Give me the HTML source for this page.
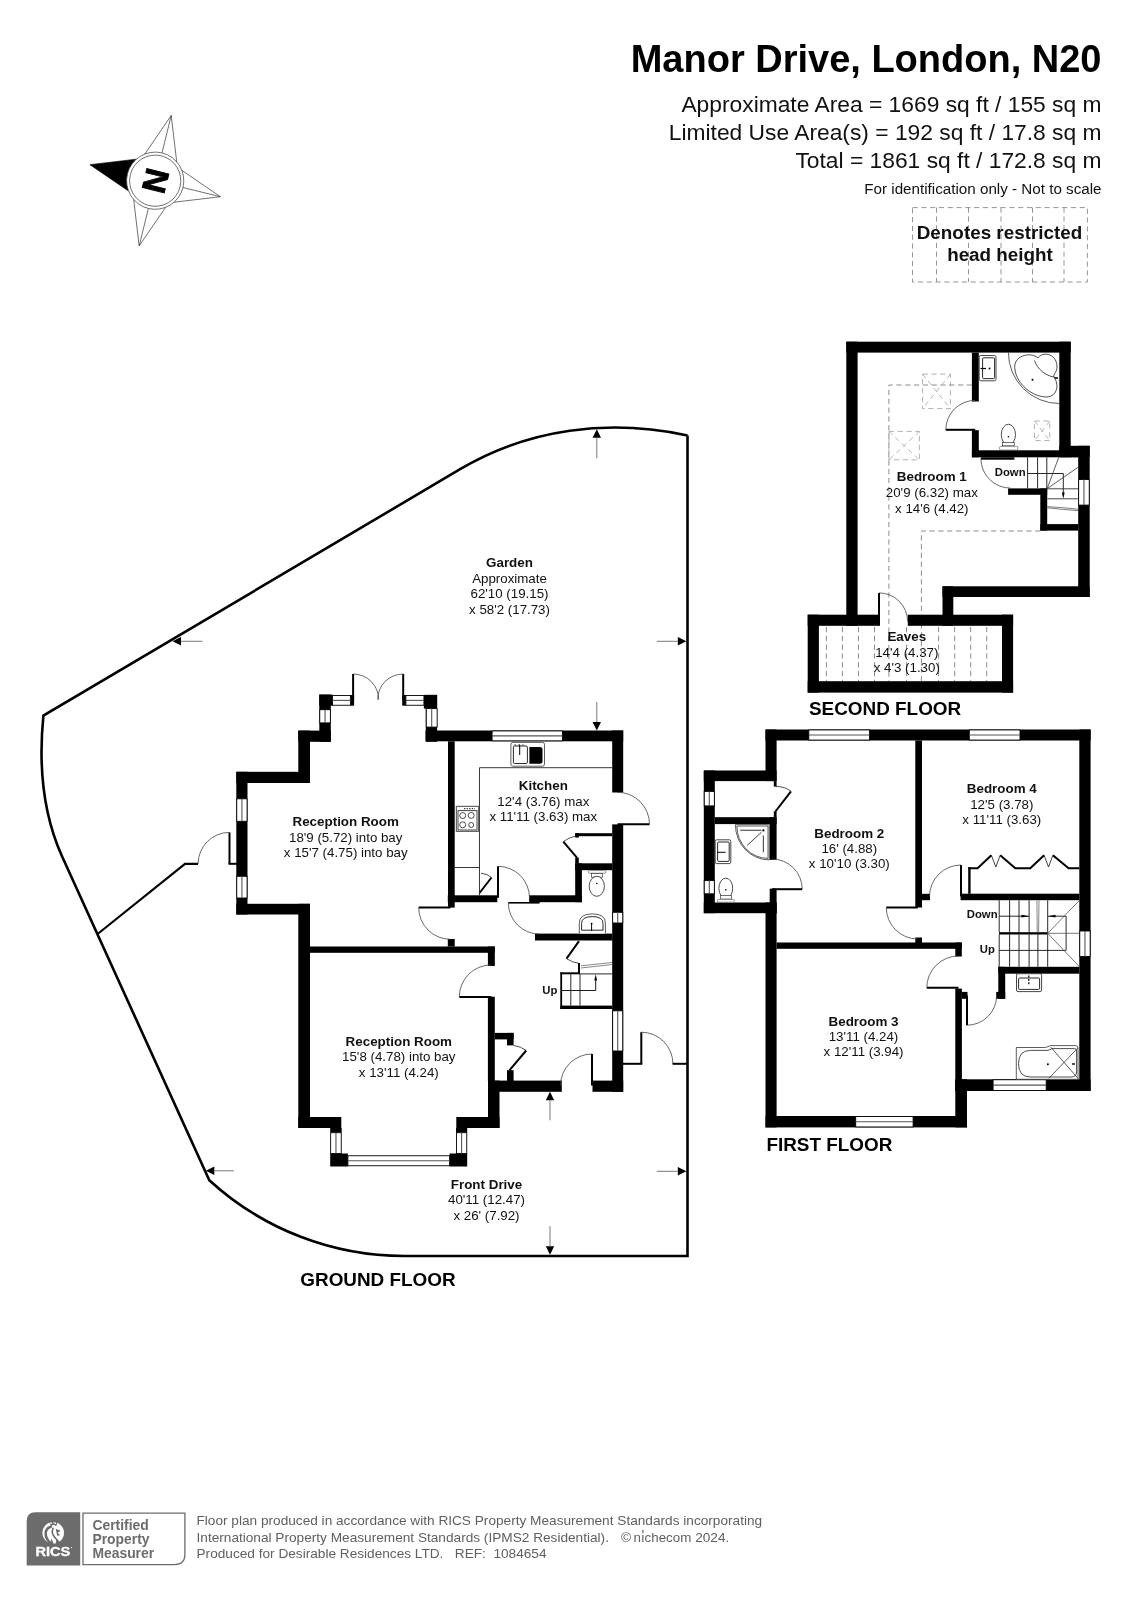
<!DOCTYPE html>
<html><head><meta charset="utf-8"><title>Manor Drive, London, N20</title>
<style>
html,body{margin:0;padding:0;background:#fff;}
svg{display:block;will-change:transform;}
text{font-family:"Liberation Sans",sans-serif;}
</style></head><body>
<svg width="1131" height="1600" viewBox="0 0 1131 1600">
<rect x="0" y="0" width="1131" height="1600" fill="#fff"/>
<text x="1101.50" y="72.20" font-size="38" text-anchor="end" fill="#000" font-weight="bold" >Manor Drive, London, N20</text>
<text x="1101.50" y="112.00" font-size="22.8" text-anchor="end" fill="#111" >Approximate Area = 1669 sq ft / 155 sq m</text>
<text x="1101.50" y="140.30" font-size="22.8" text-anchor="end" fill="#111" >Limited Use Area(s) = 192 sq ft / 17.8 sq m</text>
<text x="1101.50" y="168.00" font-size="22.8" text-anchor="end" fill="#111" >Total = 1861 sq ft / 172.8 sq m</text>
<text x="1101.50" y="194.30" font-size="15.2" text-anchor="end" fill="#111" >For identification only - Not to scale</text>
<rect x="912.5" y="207.6" width="174.9" height="74.4" fill="none" stroke="#8a8a8a" stroke-width="0.9" stroke-dasharray="5.2 3.6"/>
<line x1="936.50" y1="207.60" x2="936.50" y2="282.00" stroke="#8a8a8a" stroke-width="0.9" stroke-dasharray="5.2 3.6"/>
<line x1="968.50" y1="207.60" x2="968.50" y2="282.00" stroke="#8a8a8a" stroke-width="0.9" stroke-dasharray="5.2 3.6"/>
<line x1="1001.00" y1="207.60" x2="1001.00" y2="282.00" stroke="#8a8a8a" stroke-width="0.9" stroke-dasharray="5.2 3.6"/>
<line x1="1032.50" y1="207.60" x2="1032.50" y2="282.00" stroke="#8a8a8a" stroke-width="0.9" stroke-dasharray="5.2 3.6"/>
<line x1="1064.00" y1="207.60" x2="1064.00" y2="282.00" stroke="#8a8a8a" stroke-width="0.9" stroke-dasharray="5.2 3.6"/>
<text x="999.50" y="239.30" font-size="18.85" text-anchor="middle" fill="#111" font-weight="bold" >Denotes restricted</text>
<text x="1000.00" y="260.50" font-size="18.85" text-anchor="middle" fill="#111" font-weight="bold" >head height</text>
<g transform="translate(155.2 180.7) rotate(-76.2)">
<polygon transform="rotate(0)" points="0.00,-67.20 -16.40,-23.43 16.40,-23.43" fill="#000" stroke="#000" stroke-width="0.6"/>
<polygon transform="rotate(90)" points="0.00,-67.20 -16.40,-23.43 16.40,-23.43" fill="none" stroke="#444" stroke-width="0.7"/>
<line transform="rotate(90)" x1="0" y1="-67.2" x2="0" y2="-28.6" stroke="#444" stroke-width="0.7"/>
<polygon transform="rotate(180)" points="0.00,-67.20 -16.40,-23.43 16.40,-23.43" fill="none" stroke="#444" stroke-width="0.7"/>
<line transform="rotate(180)" x1="0" y1="-67.2" x2="0" y2="-28.6" stroke="#444" stroke-width="0.7"/>
<polygon transform="rotate(270)" points="0.00,-67.20 -16.40,-23.43 16.40,-23.43" fill="none" stroke="#444" stroke-width="0.7"/>
<line transform="rotate(270)" x1="0" y1="-67.2" x2="0" y2="-28.6" stroke="#444" stroke-width="0.7"/>
<circle cx="0" cy="0" r="28.6" fill="#fff" stroke="#444" stroke-width="0.7"/>
<circle cx="0" cy="0" r="25.6" fill="none" stroke="#444" stroke-width="0.7"/>
<text x="0" y="11.8" font-size="33" font-weight="bold" text-anchor="middle" fill="#000" stroke="#000" stroke-width="0.9">N</text>
</g>
<path d="M26.7 1565.5 V1521 Q26.7 1512.2 35.5 1512.2 H80.2 V1565.5 Z" fill="#6c6c6c"/>
<path d="M83 1513.2 H184.9 V1554.5 Q184.9 1564.6 174.5 1564.6 H83 Z" fill="#fff" stroke="#6c6c6c" stroke-width="1.3"/>
<text x="35.4" y="1556.2" font-size="13.2" font-weight="bold" fill="#fff" stroke="#fff" stroke-width="0.35" textLength="34.9" lengthAdjust="spacingAndGlyphs">RICS</text>
<circle cx="71.6" cy="1547.6" r="0.6" fill="#fff"/>
<circle cx="53.2" cy="1532.8" r="10.8" fill="#fff"/>
<path d="M50.75 1526.85 C44.81 1528.34 43.82 1535.76 49.27 1542.20" fill="none" stroke="#6c6c6c" stroke-width="2.6" stroke-linecap="round"/>
<path d="M52.98 1528.34 C50.75 1533.29 53.72 1536.75 58.18 1541.21" fill="none" stroke="#6c6c6c" stroke-width="1.6" stroke-linecap="round"/>
<path d="M49.27 1543.68 L51.74 1538.73 L53.72 1544.43 Z" fill="#6c6c6c"/>
<path d="M55.70 1544.43 L56.20 1539.72 L60.16 1541.70 Z" fill="#6c6c6c"/>
<path d="M55.70 1528.83 L60.65 1530.81 L57.68 1532.79 L60.16 1535.27 L57.19 1535.76 Z" fill="#6c6c6c"/>
<path d="M49.27 1521.90 L50.75 1526.36 L53.72 1524.38 L56.20 1526.36 L57.68 1522.15 L55.70 1520.91 L53.72 1522.64 L51.25 1520.91 Z" fill="#6c6c6c"/>
<circle cx="51.00" cy="1523.14" r="0.9" fill="#fff"/>
<circle cx="55.21" cy="1523.14" r="0.9" fill="#fff"/>
<text x="92.40" y="1530.10" font-size="13.9" text-anchor="start" fill="#6c6c6c" font-weight="bold" >Certified</text>
<text x="92.40" y="1544.20" font-size="13.9" text-anchor="start" fill="#6c6c6c" font-weight="bold" >Property</text>
<text x="92.40" y="1558.30" font-size="13.9" text-anchor="start" fill="#6c6c6c" font-weight="bold" >Measurer</text>
<text x="196.50" y="1525.00" font-size="13.65" text-anchor="start" fill="#606060" >Floor plan produced in accordance with RICS Property Measurement Standards incorporating</text>
<text x="196.50" y="1541.50" font-size="13.65" text-anchor="start" fill="#606060" >International Property Measurement Standards (IPMS2 Residential).</text>
<text x="621.00" y="1541.50" font-size="13.65" text-anchor="start" fill="#606060" >©</text>
<text x="633.5" y="1541.5" font-size="13.65" fill="#606060" textLength="57.8" lengthAdjust="spacingAndGlyphs">nıchecom</text>
<line x1="642.90" y1="1530.00" x2="642.90" y2="1533.30" stroke="#606060" stroke-width="1.1" />
<text x="695.20" y="1541.50" font-size="13.65" text-anchor="start" fill="#606060" >2024.</text>
<text x="196.50" y="1558.00" font-size="13.65" text-anchor="start" fill="#606060" xml:space="preserve">Produced for Desirable Residences LTD.   REF:  1084654</text>
<path d="M687.5 435.4 L687.5 1256 L405 1256 A288.4 288.4 0 0 1 209.3 1180.2 L62 856.3 Q35.3 796.8 43.4 715.6 L460.1 469.2 C528.7 428.6 608.1 418.4 687.5 435.4" stroke="#000" stroke-width="2.6" fill="none" stroke-linejoin="miter"/>
<path d="M97.6 934 L185 863.8 L198 863.8" stroke="#000" stroke-width="2.2" fill="none" />
<line x1="229.50" y1="863.80" x2="229.50" y2="832.40" stroke="#000" stroke-width="2.0" />
<path d="M229.50 832.40 A31.40 31.40 0 0 0 198.10 863.80" stroke="#444" stroke-width="0.8" fill="none" />
<line x1="228.50" y1="863.80" x2="237.00" y2="863.80" stroke="#000" stroke-width="2.0" />
<line x1="623.00" y1="1063.80" x2="642.30" y2="1063.80" stroke="#000" stroke-width="2.0" />
<line x1="641.30" y1="1063.80" x2="641.30" y2="1032.20" stroke="#000" stroke-width="2.0" />
<path d="M641.30 1032.20 A31.60 31.60 0 0 1 672.90 1063.80" stroke="#444" stroke-width="0.8" fill="none" />
<line x1="672.60" y1="1063.80" x2="687.50" y2="1063.80" stroke="#000" stroke-width="2.0" />
<polygon points="172.50,641.30 181.00,637.10 181.00,645.50" fill="#000"/>
<line x1="181.00" y1="641.30" x2="202.50" y2="641.30" stroke="#555" stroke-width="0.8" />
<polygon points="596.80,429.30 601.00,437.80 592.60,437.80" fill="#000"/>
<line x1="596.80" y1="437.80" x2="596.80" y2="458.30" stroke="#555" stroke-width="0.8" />
<polygon points="686.30,641.30 677.80,645.50 677.80,637.10" fill="#000"/>
<line x1="677.80" y1="641.30" x2="656.80" y2="641.30" stroke="#555" stroke-width="0.8" />
<polygon points="596.80,730.50 592.60,722.00 601.00,722.00" fill="#000"/>
<line x1="596.80" y1="722.00" x2="596.80" y2="702.00" stroke="#555" stroke-width="0.8" />
<polygon points="205.80,1170.80 214.30,1166.60 214.30,1175.00" fill="#000"/>
<line x1="214.30" y1="1170.80" x2="233.80" y2="1170.80" stroke="#555" stroke-width="0.8" />
<polygon points="686.30,1171.30 677.80,1175.50 677.80,1167.10" fill="#000"/>
<line x1="677.80" y1="1171.30" x2="656.80" y2="1171.30" stroke="#555" stroke-width="0.8" />
<polygon points="550.00,1091.80 554.20,1100.30 545.80,1100.30" fill="#000"/>
<line x1="550.00" y1="1100.30" x2="550.00" y2="1120.30" stroke="#555" stroke-width="0.8" />
<polygon points="550.00,1254.70 545.80,1246.20 554.20,1246.20" fill="#000"/>
<line x1="550.00" y1="1246.20" x2="550.00" y2="1226.20" stroke="#555" stroke-width="0.8" />
<rect x="236.30" y="771.80" width="11.20" height="142.70" fill="#000"/>
<rect x="236.30" y="771.80" width="73.70" height="11.20" fill="#000"/>
<rect x="298.30" y="730.60" width="11.70" height="52.40" fill="#000"/>
<rect x="298.30" y="730.60" width="32.50" height="11.20" fill="#000"/>
<rect x="319.30" y="694.60" width="11.50" height="47.20" fill="#000"/>
<rect x="319.30" y="694.60" width="13.20" height="11.10" fill="#000"/>
<rect x="350.40" y="695.00" width="3.70" height="10.70" fill="#000"/>
<rect x="402.20" y="695.00" width="3.70" height="10.70" fill="#000"/>
<rect x="425.80" y="694.90" width="11.30" height="46.90" fill="#000"/>
<rect x="423.90" y="694.90" width="13.20" height="13.70" fill="#000"/>
<rect x="425.50" y="730.50" width="197.70" height="10.80" fill="#000"/>
<rect x="612.20" y="730.50" width="11.00" height="62.00" fill="#000"/>
<rect x="612.20" y="824.40" width="11.00" height="267.40" fill="#000"/>
<rect x="236.30" y="903.80" width="73.70" height="10.70" fill="#000"/>
<rect x="298.30" y="903.80" width="11.70" height="224.20" fill="#000"/>
<rect x="298.30" y="1117.00" width="43.00" height="11.00" fill="#000"/>
<rect x="456.30" y="1117.00" width="43.20" height="11.00" fill="#000"/>
<rect x="488.00" y="1080.60" width="11.50" height="47.40" fill="#000"/>
<rect x="488.00" y="1080.60" width="73.80" height="11.20" fill="#000"/>
<rect x="592.50" y="1080.60" width="30.70" height="11.20" fill="#000"/>
<rect x="330.20" y="1153.50" width="17.70" height="13.00" fill="#000"/>
<rect x="330.20" y="1128.00" width="11.50" height="4.70" fill="#000"/>
<rect x="456.00" y="1128.00" width="11.20" height="4.70" fill="#000"/>
<rect x="449.60" y="1153.50" width="17.60" height="13.00" fill="#000"/>
<rect x="448.00" y="741.30" width="6.70" height="166.30" fill="#000"/>
<rect x="447.80" y="895.30" width="49.50" height="6.90" fill="#000"/>
<rect x="529.20" y="895.30" width="52.70" height="6.90" fill="#000"/>
<rect x="447.80" y="939.00" width="6.90" height="7.60" fill="#000"/>
<rect x="310.00" y="946.50" width="184.80" height="6.30" fill="#000"/>
<rect x="487.90" y="946.50" width="6.90" height="19.50" fill="#000"/>
<rect x="487.90" y="996.70" width="6.90" height="84.30" fill="#000"/>
<rect x="575.20" y="863.30" width="6.70" height="38.90" fill="#000"/>
<rect x="575.20" y="863.30" width="37.10" height="6.90" fill="#000"/>
<rect x="535.00" y="933.60" width="77.30" height="6.90" fill="#000"/>
<rect x="575.20" y="833.20" width="37.10" height="3.00" fill="#000"/>
<rect x="575.20" y="833.20" width="3.60" height="4.40" fill="#000"/>
<rect x="575.20" y="857.70" width="3.60" height="5.80" fill="#000"/>
<rect x="494.80" y="1032.90" width="18.80" height="6.50" fill="#000"/>
<rect x="507.00" y="1032.90" width="6.60" height="12.50" fill="#000"/>
<rect x="507.00" y="1070.20" width="6.60" height="10.80" fill="#000"/>
<rect x="560.40" y="972.30" width="19.60" height="2.00" fill="#000"/>
<rect x="578.00" y="963.00" width="2.00" height="11.00" fill="#000"/>
<rect x="560.40" y="1005.60" width="51.90" height="3.40" fill="#000"/>
<rect x="236.75" y="798.80" width="10.30" height="22.50" fill="#fff" stroke="#000" stroke-width="0.9"/>
<line x1="241.90" y1="798.80" x2="241.90" y2="821.30" stroke="#555" stroke-width="1.1" />
<rect x="236.75" y="876.30" width="10.30" height="21.70" fill="#fff" stroke="#000" stroke-width="0.9"/>
<line x1="241.90" y1="876.30" x2="241.90" y2="898.00" stroke="#555" stroke-width="1.1" />
<rect x="319.75" y="709.70" width="10.60" height="13.20" fill="#fff" stroke="#000" stroke-width="0.9"/>
<line x1="325.05" y1="709.70" x2="325.05" y2="722.90" stroke="#555" stroke-width="1.1" />
<rect x="426.25" y="708.60" width="10.90" height="18.50" fill="#fff" stroke="#000" stroke-width="0.9"/>
<line x1="431.70" y1="708.60" x2="431.70" y2="727.10" stroke="#555" stroke-width="1.1" />
<rect x="332.50" y="695.55" width="17.90" height="9.70" fill="#fff" stroke="#000" stroke-width="0.9"/>
<line x1="332.50" y1="700.40" x2="350.40" y2="700.40" stroke="#555" stroke-width="1.1" />
<rect x="405.90" y="695.55" width="18.00" height="9.70" fill="#fff" stroke="#000" stroke-width="0.9"/>
<line x1="405.90" y1="700.40" x2="423.90" y2="700.40" stroke="#555" stroke-width="1.1" />
<rect x="492.10" y="730.95" width="70.30" height="9.90" fill="#fff" stroke="#000" stroke-width="0.9"/>
<line x1="492.10" y1="735.90" x2="562.40" y2="735.90" stroke="#555" stroke-width="1.1" />
<rect x="612.65" y="912.30" width="10.10" height="10.70" fill="#fff" stroke="#000" stroke-width="0.9"/>
<line x1="617.70" y1="912.30" x2="617.70" y2="923.00" stroke="#555" stroke-width="1.1" />
<rect x="612.65" y="1010.80" width="10.10" height="40.20" fill="#fff" stroke="#000" stroke-width="0.9"/>
<line x1="617.70" y1="1010.80" x2="617.70" y2="1051.00" stroke="#555" stroke-width="1.1" />
<rect x="330.65" y="1132.70" width="10.60" height="20.80" fill="#fff" stroke="#000" stroke-width="0.9"/>
<line x1="335.95" y1="1132.70" x2="335.95" y2="1153.50" stroke="#555" stroke-width="1.1" />
<rect x="456.45" y="1132.70" width="10.30" height="20.80" fill="#fff" stroke="#000" stroke-width="0.9"/>
<line x1="461.60" y1="1132.70" x2="461.60" y2="1153.50" stroke="#555" stroke-width="1.1" />
<rect x="347.90" y="1155.75" width="101.70" height="10.00" fill="#fff" stroke="#000" stroke-width="0.9"/>
<line x1="347.90" y1="1160.75" x2="449.60" y2="1160.75" stroke="#555" stroke-width="1.1" />
<line x1="353.10" y1="699.60" x2="353.10" y2="674.00" stroke="#000" stroke-width="2.0" />
<path d="M353.10 674.00 A25.60 25.60 0 0 1 378.70 699.60" stroke="#444" stroke-width="0.8" fill="none" />
<line x1="403.20" y1="699.60" x2="403.20" y2="674.00" stroke="#000" stroke-width="2.0" />
<path d="M403.20 674.00 A25.60 25.60 0 0 0 377.60 699.60" stroke="#444" stroke-width="0.8" fill="none" />
<line x1="617.50" y1="824.30" x2="649.50" y2="824.30" stroke="#000" stroke-width="2.0" />
<path d="M649.50 824.30 A32.00 32.00 0 0 0 617.50 792.30" stroke="#444" stroke-width="0.8" fill="none" />
<line x1="498.00" y1="897.80" x2="498.00" y2="866.30" stroke="#000" stroke-width="2.0" />
<path d="M498.00 866.30 A31.50 31.50 0 0 1 529.50 897.80" stroke="#444" stroke-width="0.8" fill="none" />
<line x1="539.60" y1="902.80" x2="508.30" y2="902.80" stroke="#000" stroke-width="1.6" />
<path d="M508.30 902.80 A31.30 31.30 0 0 0 539.60 934.10" stroke="#444" stroke-width="0.8" fill="none" />
<line x1="450.40" y1="907.60" x2="418.70" y2="907.60" stroke="#000" stroke-width="2.0" />
<path d="M418.70 907.60 A31.70 31.70 0 0 0 450.40 939.30" stroke="#444" stroke-width="0.8" fill="none" />
<line x1="491.30" y1="996.90" x2="459.30" y2="996.90" stroke="#000" stroke-width="2.0" />
<path d="M459.30 996.90 A32.00 32.00 0 0 1 491.30 964.90" stroke="#444" stroke-width="0.8" fill="none" />
<line x1="592.00" y1="1085.50" x2="592.00" y2="1054.00" stroke="#000" stroke-width="2.0" />
<path d="M592.00 1054.00 A31.50 31.50 0 0 0 560.50 1085.50" stroke="#444" stroke-width="0.8" fill="none" />
<line x1="479.50" y1="893.00" x2="491.50" y2="877.50" stroke="#000" stroke-width="2.0" />
<path d="M481 873.2 Q488 874 491.5 877.5" stroke="#222" stroke-width="0.8" fill="none" />
<line x1="577.10" y1="857.90" x2="563.30" y2="841.60" stroke="#000" stroke-width="2.0" />
<path d="M563.3 841.6 Q569 837.5 575.2 836.2" stroke="#222" stroke-width="0.8" fill="none" />
<line x1="579.00" y1="941.20" x2="566.50" y2="958.70" stroke="#000" stroke-width="2.0" />
<path d="M566.5 958.7 Q572 962.3 578.4 963.2" stroke="#222" stroke-width="0.8" fill="none" />
<line x1="509.40" y1="1070.40" x2="526.20" y2="1050.50" stroke="#000" stroke-width="2.0" />
<path d="M513.6 1045.4 Q521 1046.5 526.2 1050.5" stroke="#222" stroke-width="0.8" fill="none" />
<path d="M612.2 767.7 H479.5 V895.3" stroke="#222" stroke-width="0.9" fill="none" />
<line x1="454.70" y1="867.50" x2="479.50" y2="867.50" stroke="#222" stroke-width="0.9" />
<rect x="510.9" y="742.4" width="33.6" height="23.8" rx="2" fill="#fff" stroke="#333" stroke-width="0.8"/>
<rect x="513.4" y="746" width="14" height="17.5" rx="1.2" fill="#fff" stroke="#111" stroke-width="0.9"/>
<path d="M529.4 747 H540 Q542.5 747 542.5 749.5 V761.2 Q542.5 763.7 540 763.7 H529.4 Z" fill="#000"/>
<line x1="519.70" y1="744.50" x2="519.70" y2="755.00" stroke="#000" stroke-width="1.0" />
<line x1="514.50" y1="745.00" x2="525.50" y2="745.00" stroke="#333" stroke-width="1.2" stroke-dasharray="1.6 2.2"/>
<rect x="456.4" y="806.4" width="22.2" height="25" fill="#fff" stroke="#666" stroke-width="1.2"/>
<rect x="458" y="810.6" width="19" height="19.4" fill="none" stroke="#444" stroke-width="1.0"/>
<circle cx="462.7" cy="815.6" r="3.0" fill="none" stroke="#222" stroke-width="0.8"/>
<circle cx="471.2" cy="815.4" r="3.0" fill="none" stroke="#222" stroke-width="0.8"/>
<circle cx="462.7" cy="824.8" r="3.0" fill="none" stroke="#222" stroke-width="0.8"/>
<circle cx="471.2" cy="825" r="2.5" fill="none" stroke="#222" stroke-width="0.8"/>
<line x1="464.00" y1="808.60" x2="475.00" y2="808.60" stroke="#333" stroke-width="1.3" stroke-dasharray="1.3 1.3"/>
<rect x="588.4" y="870.6" width="17.5" height="2.6" rx="1" fill="#fff" stroke="#555" stroke-width="0.6"/>
<rect x="591.5" y="873.6" width="10.8" height="3.6" fill="#fff" stroke="#333" stroke-width="0.7"/>
<ellipse cx="596.8" cy="886.3" rx="7.6" ry="10" fill="#fff" stroke="#222" stroke-width="0.8"/>
<circle cx="596.8" cy="883.5" r="0.8" fill="#000"/>
<path d="M579.3 933.6 V923 Q579.3 913.9 592.3 913.9 Q605.4 913.9 605.4 923 V933.6" stroke="#333" stroke-width="0.8" fill="#fff" />
<path d="M581.6 930.2 V923.5 Q581.6 916.6 592.3 916.6 Q603 916.6 603 923.5 V930.2 Z" stroke="#111" stroke-width="0.9" fill="#fff" />
<line x1="591.60" y1="923.50" x2="591.60" y2="931.00" stroke="#000" stroke-width="1.0" />
<circle cx="591.6" cy="923.6" r="0.9" fill="#000"/>
<line x1="561.20" y1="972.30" x2="561.20" y2="1009.00" stroke="#000" stroke-width="1.8" />
<line x1="570.80" y1="974.20" x2="570.80" y2="1005.80" stroke="#111" stroke-width="0.9" />
<line x1="580.00" y1="974.20" x2="580.00" y2="1005.80" stroke="#111" stroke-width="0.9" />
<line x1="580.00" y1="973.90" x2="612.20" y2="973.90" stroke="#111" stroke-width="0.9" />
<path d="M581 965.8 L612 962.5 M581 968 L612 964.5" stroke="#555" stroke-width="0.7" fill="none" />
<path d="M561 990.5 H595.7 V980" stroke="#000" stroke-width="0.9" fill="none" />
<polygon points="595.7,974.3 594.3,980.4 597.1,980.4" fill="#000"/>
<text x="549.90" y="993.80" font-size="11.3" text-anchor="middle" fill="#111" font-weight="bold" >Up</text>
<text x="345.70" y="826.30" font-size="13.4" text-anchor="middle" fill="#111" font-weight="bold" >Reception Room</text>
<text x="345.70" y="841.70" font-size="13.3" text-anchor="middle" fill="#111" >18'9 (5.72) into bay</text>
<text x="345.70" y="857.10" font-size="13.3" text-anchor="middle" fill="#111" >x 15'7 (4.75) into bay</text>
<text x="398.80" y="1046.00" font-size="13.4" text-anchor="middle" fill="#111" font-weight="bold" >Reception Room</text>
<text x="398.80" y="1061.40" font-size="13.3" text-anchor="middle" fill="#111" >15'8 (4.78) into bay</text>
<text x="398.80" y="1076.80" font-size="13.3" text-anchor="middle" fill="#111" >x 13'11 (4.24)</text>
<text x="543.30" y="790.30" font-size="13.4" text-anchor="middle" fill="#111" font-weight="bold" >Kitchen</text>
<text x="543.30" y="805.70" font-size="13.3" text-anchor="middle" fill="#111" >12'4 (3.76) max</text>
<text x="543.30" y="821.10" font-size="13.3" text-anchor="middle" fill="#111" >x 11'11 (3.63) max</text>
<text x="509.50" y="567.30" font-size="13.4" text-anchor="middle" fill="#111" font-weight="bold" >Garden</text>
<text x="509.50" y="582.70" font-size="13.3" text-anchor="middle" fill="#111" >Approximate</text>
<text x="509.50" y="598.10" font-size="13.3" text-anchor="middle" fill="#111" >62'10 (19.15)</text>
<text x="509.50" y="613.50" font-size="13.3" text-anchor="middle" fill="#111" >x 58'2 (17.73)</text>
<text x="486.50" y="1188.80" font-size="13.4" text-anchor="middle" fill="#111" font-weight="bold" >Front Drive</text>
<text x="486.50" y="1204.20" font-size="13.3" text-anchor="middle" fill="#111" >40'11 (12.47)</text>
<text x="486.50" y="1219.60" font-size="13.3" text-anchor="middle" fill="#111" >x 26' (7.92)</text>
<text x="300.30" y="1286.00" font-size="18.9" text-anchor="start" fill="#000" font-weight="bold" >GROUND FLOOR</text>
<rect x="765.50" y="729.50" width="325.10" height="11.00" fill="#000"/>
<rect x="765.50" y="729.50" width="11.10" height="51.60" fill="#000"/>
<rect x="703.80" y="770.50" width="72.80" height="10.60" fill="#000"/>
<rect x="703.80" y="770.50" width="11.00" height="142.70" fill="#000"/>
<rect x="703.80" y="902.50" width="72.80" height="10.70" fill="#000"/>
<rect x="765.50" y="902.50" width="11.10" height="224.90" fill="#000"/>
<rect x="714.80" y="817.20" width="61.80" height="6.90" fill="#000"/>
<rect x="769.70" y="817.20" width="6.90" height="42.70" fill="#000"/>
<rect x="769.70" y="888.70" width="6.90" height="24.50" fill="#000"/>
<rect x="773.80" y="781.10" width="2.80" height="5.50" fill="#000"/>
<rect x="773.80" y="811.30" width="2.80" height="5.90" fill="#000"/>
<rect x="915.30" y="740.50" width="6.70" height="167.00" fill="#000"/>
<rect x="922.00" y="893.80" width="8.00" height="6.40" fill="#000"/>
<rect x="915.30" y="937.50" width="6.70" height="6.30" fill="#000"/>
<rect x="776.60" y="942.50" width="185.20" height="6.30" fill="#000"/>
<rect x="955.30" y="942.50" width="6.50" height="14.00" fill="#000"/>
<rect x="955.30" y="988.60" width="6.60" height="102.40" fill="#000"/>
<rect x="961.90" y="991.90" width="5.60" height="6.90" fill="#000"/>
<rect x="955.30" y="1079.30" width="11.70" height="48.10" fill="#000"/>
<rect x="765.50" y="1116.00" width="201.50" height="11.40" fill="#000"/>
<rect x="955.30" y="1079.30" width="135.30" height="11.70" fill="#000"/>
<rect x="1079.30" y="729.50" width="11.30" height="361.50" fill="#000"/>
<rect x="960.60" y="893.70" width="118.70" height="6.50" fill="#000"/>
<rect x="998.30" y="966.80" width="81.00" height="6.90" fill="#000"/>
<rect x="998.30" y="966.80" width="6.90" height="32.00" fill="#000"/>
<rect x="996.20" y="991.90" width="9.00" height="6.90" fill="#000"/>
<rect x="999.00" y="932.20" width="48.90" height="2.30" fill="#000"/>
<rect x="808.80" y="729.95" width="60.70" height="10.10" fill="#fff" stroke="#000" stroke-width="0.9"/>
<line x1="808.80" y1="735.00" x2="869.50" y2="735.00" stroke="#555" stroke-width="1.1" />
<rect x="969.30" y="729.95" width="50.70" height="10.10" fill="#fff" stroke="#000" stroke-width="0.9"/>
<line x1="969.30" y1="735.00" x2="1020.00" y2="735.00" stroke="#555" stroke-width="1.1" />
<rect x="704.25" y="791.40" width="10.10" height="14.50" fill="#fff" stroke="#000" stroke-width="0.9"/>
<line x1="709.30" y1="791.40" x2="709.30" y2="805.90" stroke="#555" stroke-width="1.1" />
<rect x="704.25" y="880.60" width="10.10" height="13.20" fill="#fff" stroke="#000" stroke-width="0.9"/>
<line x1="709.30" y1="880.60" x2="709.30" y2="893.80" stroke="#555" stroke-width="1.1" />
<rect x="1079.75" y="931.00" width="10.40" height="25.50" fill="#fff" stroke="#000" stroke-width="0.9"/>
<line x1="1084.95" y1="931.00" x2="1084.95" y2="956.50" stroke="#555" stroke-width="1.1" />
<rect x="855.70" y="1116.45" width="57.40" height="10.50" fill="#fff" stroke="#000" stroke-width="0.9"/>
<line x1="855.70" y1="1121.70" x2="913.10" y2="1121.70" stroke="#555" stroke-width="1.1" />
<rect x="993.10" y="1079.75" width="53.10" height="10.80" fill="#fff" stroke="#000" stroke-width="0.9"/>
<line x1="993.10" y1="1085.15" x2="1046.20" y2="1085.15" stroke="#555" stroke-width="1.1" />
<line x1="917.80" y1="907.50" x2="886.30" y2="907.50" stroke="#000" stroke-width="2.0" />
<path d="M886.30 907.50 A31.50 31.50 0 0 0 917.80 939.00" stroke="#444" stroke-width="0.8" fill="none" />
<line x1="958.50" y1="987.70" x2="926.80" y2="987.70" stroke="#000" stroke-width="2.0" />
<path d="M926.80 987.70 A31.70 31.70 0 0 1 958.50 956.00" stroke="#444" stroke-width="0.8" fill="none" />
<line x1="961.00" y1="896.50" x2="961.00" y2="865.00" stroke="#000" stroke-width="2.0" />
<path d="M961.00 865.00 A31.50 31.50 0 0 0 929.50 896.50" stroke="#444" stroke-width="0.8" fill="none" />
<line x1="967.00" y1="995.60" x2="967.00" y2="1025.20" stroke="#000" stroke-width="2.0" />
<path d="M967.00 1025.20 A29.60 29.60 0 0 0 996.60 995.60" stroke="#444" stroke-width="0.8" fill="none" />
<line x1="772.00" y1="889.20" x2="802.20" y2="889.20" stroke="#000" stroke-width="2.0" />
<path d="M802.20 889.20 A30.20 30.20 0 0 0 772.00 859.00" stroke="#444" stroke-width="0.8" fill="none" />
<line x1="775.40" y1="811.50" x2="791.00" y2="791.40" stroke="#000" stroke-width="2.0" />
<path d="M775.6 786.4 Q785 786.5 791 791.4" stroke="#222" stroke-width="0.8" fill="none" />
<line x1="969.40" y1="867.20" x2="969.40" y2="893.80" stroke="#000" stroke-width="2.4" />
<path d="M968.3 868.2 H977.6 L991.4 855.3 M1000.2 855.3 L1015.3 868.2 H1030.3 L1044.1 855.3 M1052.9 855.3 L1068.6 868.2 H1079.3" stroke="#000" stroke-width="2.0" fill="none" />
<path d="M991.4 855.3 L995.8 867 L1000.2 855.3 M1044.1 855.3 L1048.5 867 L1052.9 855.3" stroke="#111" stroke-width="0.8" fill="none" />
<line x1="999.20" y1="900.20" x2="999.20" y2="932.20" stroke="#111" stroke-width="0.9" />
<line x1="1009.60" y1="900.20" x2="1009.60" y2="932.20" stroke="#111" stroke-width="0.9" />
<line x1="1019.00" y1="900.20" x2="1019.00" y2="932.20" stroke="#111" stroke-width="0.9" />
<line x1="1029.10" y1="900.20" x2="1029.10" y2="932.20" stroke="#111" stroke-width="0.9" />
<line x1="1047.70" y1="900.20" x2="1047.70" y2="932.20" stroke="#111" stroke-width="0.9" />
<path d="M1036.9 900.2 L1037.3 932.2 M1039 900.2 L1038.6 932.2" stroke="#555" stroke-width="0.7" fill="none" />
<line x1="999.20" y1="934.40" x2="999.20" y2="966.80" stroke="#111" stroke-width="0.9" />
<line x1="1009.60" y1="934.40" x2="1009.60" y2="966.80" stroke="#111" stroke-width="0.9" />
<line x1="1019.00" y1="934.40" x2="1019.00" y2="966.80" stroke="#111" stroke-width="0.9" />
<line x1="1029.10" y1="934.40" x2="1029.10" y2="966.80" stroke="#111" stroke-width="0.9" />
<line x1="1037.90" y1="934.40" x2="1037.90" y2="966.80" stroke="#111" stroke-width="0.9" />
<line x1="1047.70" y1="934.40" x2="1047.70" y2="966.80" stroke="#111" stroke-width="0.9" />
<line x1="999.20" y1="916.20" x2="1029.10" y2="916.20" stroke="#111" stroke-width="0.9" />
<polygon points="1029.1,916.2 1021.5,914.8 1021.5,917.6" fill="#000"/>
<path d="M1047.7 916.2 H1066.1 V950.4 H999.2" stroke="#111" stroke-width="0.9" fill="none" />
<polygon points="1048.2,916.2 1055.5,914.8 1055.5,917.6" fill="#000"/>
<path d="M1047.7 933.3 L1079.3 900.5 M1047.7 933.3 L1079.3 966.6 M1047.7 933.3 H1079.3" stroke="#555" stroke-width="0.8" fill="none" />
<text x="982.20" y="918.40" font-size="11.3" text-anchor="middle" fill="#111" font-weight="bold" >Down</text>
<text x="987.30" y="952.60" font-size="11.3" text-anchor="middle" fill="#111" font-weight="bold" >Up</text>
<path d="M735.4 824.6 H769.3 V859.9 A33.9 35.3 0 0 1 735.4 824.6 Z" stroke="#333" stroke-width="0.8" fill="#fff" />
<path d="M736.9 826 H768 V858.4 A31.1 32.4 0 0 1 736.9 826 Z" stroke="#333" stroke-width="0.8" fill="none" />
<line x1="740.20" y1="830.30" x2="761.50" y2="830.30" stroke="#555" stroke-width="1.2" />
<line x1="763.40" y1="835.40" x2="763.40" y2="852.30" stroke="#555" stroke-width="1.2" />
<line x1="747.10" y1="845.40" x2="761.50" y2="832.20" stroke="#333" stroke-width="0.9" />
<circle cx="763.4" cy="830.4" r="1.1" fill="#000"/>
<rect x="715.2" y="839.8" width="15.6" height="23.8" rx="1.5" fill="#fff" stroke="#333" stroke-width="0.9"/>
<rect x="717.6" y="842" width="11.6" height="19.4" rx="1" fill="#fff" stroke="#111" stroke-width="0.9"/>
<line x1="717.00" y1="852.30" x2="725.50" y2="852.30" stroke="#000" stroke-width="1.0" />
<ellipse cx="725.8" cy="888.3" rx="6.9" ry="10.2" fill="#fff" stroke="#222" stroke-width="0.8"/>
<rect x="720.7" y="895.5" width="10.6" height="3.6" fill="#fff" stroke="#333" stroke-width="0.7"/>
<rect x="717.4" y="899.4" width="16.8" height="2.8" rx="1" fill="#fff" stroke="#555" stroke-width="0.6"/>
<circle cx="725.8" cy="889.8" r="0.8" fill="#000"/>
<rect x="1016.5" y="973.7" width="25.1" height="17.9" rx="1.5" fill="#fff" stroke="#333" stroke-width="0.9"/>
<rect x="1018.6" y="978" width="21" height="11.4" rx="1" fill="#fff" stroke="#111" stroke-width="0.9"/>
<line x1="1028.80" y1="975.50" x2="1028.80" y2="984.50" stroke="#000" stroke-width="1.2" stroke-dasharray="2 1.4"/>
<path d="M1016.3 1047.5 H1045.5 L1050.8 1045.6 H1075.5 Q1078 1045.6 1078 1048 V1079.3 H1016.3 Z" stroke="#333" stroke-width="0.8" fill="#fff" />
<path d="M1030.5 1050.4 H1048 L1052 1048.6 H1074.5 Q1076.6 1048.6 1076.6 1051 V1072 Q1076.6 1077 1071 1077 H1030.5 Q1018.5 1077 1018.5 1063.7 Q1018.5 1050.4 1030.5 1050.4 Z" stroke="#222" stroke-width="0.8" fill="none" />
<path d="M1050.8 1047.2 L1078 1078.4 M1078 1047.8 L1048.8 1078.4" stroke="#333" stroke-width="0.8" fill="none" />
<circle cx="1047.9" cy="1064.2" r="1" fill="#000"/>
<line x1="1072.00" y1="1064.00" x2="1075.00" y2="1064.00" stroke="#000" stroke-width="1.4" />
<text x="849.30" y="837.50" font-size="13.4" text-anchor="middle" fill="#111" font-weight="bold" >Bedroom 2</text>
<text x="849.30" y="852.90" font-size="13.3" text-anchor="middle" fill="#111" >16' (4.88)</text>
<text x="849.30" y="868.30" font-size="13.3" text-anchor="middle" fill="#111" >x 10'10 (3.30)</text>
<text x="863.50" y="1025.50" font-size="13.4" text-anchor="middle" fill="#111" font-weight="bold" >Bedroom 3</text>
<text x="863.50" y="1040.90" font-size="13.3" text-anchor="middle" fill="#111" >13'11 (4.24)</text>
<text x="863.50" y="1056.30" font-size="13.3" text-anchor="middle" fill="#111" >x 12'11 (3.94)</text>
<text x="1001.80" y="793.30" font-size="13.4" text-anchor="middle" fill="#111" font-weight="bold" >Bedroom 4</text>
<text x="1001.80" y="808.70" font-size="13.3" text-anchor="middle" fill="#111" >12'5 (3.78)</text>
<text x="1001.80" y="824.10" font-size="13.3" text-anchor="middle" fill="#111" >x 11'11 (3.63)</text>
<text x="766.40" y="1150.60" font-size="18.9" text-anchor="start" fill="#000" font-weight="bold" >FIRST FLOOR</text>
<path d="M972 385 H888.9 V681" stroke="#8c8c8c" stroke-width="1.0" fill="none" stroke-dasharray="5.2 3.6"/>
<path d="M1040.3 531 H921.4 V681" stroke="#8c8c8c" stroke-width="1.0" fill="none" stroke-dasharray="5.2 3.6"/>
<line x1="826.40" y1="627.00" x2="826.40" y2="681.00" stroke="#8c8c8c" stroke-width="1.0" stroke-dasharray="5.2 3.6"/>
<line x1="842.43" y1="627.00" x2="842.43" y2="681.00" stroke="#8c8c8c" stroke-width="1.0" stroke-dasharray="5.2 3.6"/>
<line x1="858.46" y1="627.00" x2="858.46" y2="681.00" stroke="#8c8c8c" stroke-width="1.0" stroke-dasharray="5.2 3.6"/>
<line x1="874.49" y1="627.00" x2="874.49" y2="681.00" stroke="#8c8c8c" stroke-width="1.0" stroke-dasharray="5.2 3.6"/>
<line x1="906.55" y1="627.00" x2="906.55" y2="681.00" stroke="#8c8c8c" stroke-width="1.0" stroke-dasharray="5.2 3.6"/>
<line x1="938.61" y1="627.00" x2="938.61" y2="681.00" stroke="#8c8c8c" stroke-width="1.0" stroke-dasharray="5.2 3.6"/>
<line x1="954.64" y1="627.00" x2="954.64" y2="681.00" stroke="#8c8c8c" stroke-width="1.0" stroke-dasharray="5.2 3.6"/>
<line x1="970.67" y1="627.00" x2="970.67" y2="681.00" stroke="#8c8c8c" stroke-width="1.0" stroke-dasharray="5.2 3.6"/>
<line x1="986.70" y1="627.00" x2="986.70" y2="681.00" stroke="#8c8c8c" stroke-width="1.0" stroke-dasharray="5.2 3.6"/>
<rect x="922.6" y="374.1" width="27.80" height="34.50" fill="none" stroke="#a8a8a8" stroke-width="0.9" stroke-dasharray="5.2 3.6"/>
<path d="M922.6 374.1 L950.4 408.6 M950.4 374.1 L922.6 408.6" stroke="#b0b0b0" stroke-width="0.9" fill="none" stroke-dasharray="5.2 3.6"/>
<rect x="888.9" y="431.4" width="30.50" height="28.40" fill="none" stroke="#a8a8a8" stroke-width="0.9" stroke-dasharray="5.2 3.6"/>
<path d="M888.9 431.4 L919.4 459.8 M919.4 431.4 L888.9 459.8" stroke="#b0b0b0" stroke-width="0.9" fill="none" stroke-dasharray="5.2 3.6"/>
<rect x="1034.5" y="421" width="15.30" height="19.60" fill="none" stroke="#a8a8a8" stroke-width="0.9" stroke-dasharray="5.2 3.6"/>
<path d="M1034.5 421 L1049.8 440.6 M1049.8 421 L1034.5 440.6" stroke="#b0b0b0" stroke-width="0.9" fill="none" stroke-dasharray="5.2 3.6"/>
<rect x="846.30" y="341.70" width="224.40" height="10.90" fill="#000"/>
<rect x="846.30" y="341.70" width="11.30" height="284.10" fill="#000"/>
<rect x="1059.30" y="341.70" width="11.40" height="115.50" fill="#000"/>
<rect x="1059.30" y="445.80" width="30.40" height="11.40" fill="#000"/>
<rect x="1078.20" y="445.80" width="11.50" height="151.20" fill="#000"/>
<rect x="971.90" y="450.30" width="106.30" height="7.00" fill="#000"/>
<rect x="971.90" y="352.60" width="6.90" height="48.90" fill="#000"/>
<rect x="971.90" y="430.20" width="6.90" height="27.10" fill="#000"/>
<rect x="1008.10" y="488.40" width="39.10" height="6.40" fill="#000"/>
<rect x="1040.30" y="488.40" width="6.90" height="42.20" fill="#000"/>
<rect x="1040.30" y="524.10" width="37.90" height="6.50" fill="#000"/>
<rect x="942.50" y="586.30" width="147.20" height="10.70" fill="#000"/>
<rect x="942.50" y="586.30" width="10.80" height="39.50" fill="#000"/>
<rect x="807.70" y="614.70" width="72.30" height="11.10" fill="#000"/>
<rect x="907.80" y="614.70" width="105.30" height="11.10" fill="#000"/>
<rect x="807.70" y="614.70" width="11.20" height="77.90" fill="#000"/>
<rect x="1002.00" y="614.70" width="11.10" height="77.90" fill="#000"/>
<rect x="807.70" y="681.20" width="205.40" height="11.40" fill="#000"/>
<rect x="1078.65" y="479.50" width="10.60" height="25.60" fill="#fff" stroke="#000" stroke-width="0.9"/>
<line x1="1083.95" y1="479.50" x2="1083.95" y2="505.10" stroke="#555" stroke-width="1.1" />
<line x1="975.20" y1="429.80" x2="945.80" y2="429.80" stroke="#000" stroke-width="2.0" />
<path d="M945.80 429.80 A29.40 29.40 0 0 1 975.20 400.40" stroke="#444" stroke-width="0.8" fill="none" />
<line x1="1010.50" y1="458.50" x2="980.90" y2="458.50" stroke="#000" stroke-width="2.4" />
<path d="M980.90 458.50 A29.60 29.60 0 0 0 1010.50 488.10" stroke="#444" stroke-width="0.8" fill="none" />
<line x1="1010.00" y1="458.50" x2="1014.40" y2="458.50" stroke="#000" stroke-width="2.4" />
<line x1="879.00" y1="621.50" x2="879.00" y2="592.90" stroke="#000" stroke-width="2.0" />
<path d="M879.00 592.90 A28.60 28.60 0 0 1 907.60 621.50" stroke="#444" stroke-width="0.8" fill="none" />
<line x1="1027.60" y1="457.30" x2="1027.60" y2="488.40" stroke="#111" stroke-width="0.9" />
<line x1="1037.60" y1="457.30" x2="1037.60" y2="488.40" stroke="#111" stroke-width="0.9" />
<line x1="1046.80" y1="457.30" x2="1046.80" y2="488.40" stroke="#111" stroke-width="0.9" />
<path d="M1027.6 473.5 H1063.3 V493" stroke="#111" stroke-width="0.9" fill="none" />
<polygon points="1063.3,498.8 1061.9,492.5 1064.7,492.5" fill="#000"/>
<path d="M1047.2 488.6 L1058.7 457.4 M1047.2 488.6 L1078.2 467.2" stroke="#333" stroke-width="0.8" fill="none" />
<line x1="1047.20" y1="488.80" x2="1078.20" y2="488.80" stroke="#333" stroke-width="0.9" />
<line x1="1047.20" y1="498.80" x2="1078.20" y2="498.80" stroke="#333" stroke-width="0.9" />
<path d="M1047.2 506.6 Q1063 507.5 1078.2 509.2 M1047.2 507.8 Q1063 509.6 1078.2 510.6" stroke="#444" stroke-width="0.7" fill="none" />
<text x="1010.20" y="476.30" font-size="11.3" text-anchor="middle" fill="#111" font-weight="bold" >Down</text>
<rect x="979.2" y="355.5" width="16.8" height="25.3" rx="1.5" fill="#fff" stroke="#333" stroke-width="0.9"/>
<rect x="982.6" y="357.8" width="12" height="20.8" rx="1" fill="#fff" stroke="#111" stroke-width="0.9"/>
<line x1="980.50" y1="368.50" x2="986.00" y2="368.50" stroke="#000" stroke-width="1.2" />
<circle cx="989.5" cy="368.5" r="1" fill="#000"/>
<path d="M1008.4 352.6 A50.9 50.9 0 0 0 1059.3 403.5" stroke="#333" stroke-width="0.8" fill="none" />
<path d="M1015 370 C1012 356 1030 351 1038 358 C1041 352 1056 352 1057 366 C1057.5 372 1053 374 1054 377 C1059 384 1058 396 1047 397 C1032 397 1017 384 1015 370 Z" stroke="#222" stroke-width="0.8" fill="none" />
<path d="M1034.5 360.5 C1037 369 1046 376 1054 377" stroke="#222" stroke-width="0.8" fill="none" />
<circle cx="1032.5" cy="379.8" r="1" fill="#000"/>
<line x1="1054.50" y1="378.00" x2="1058.00" y2="378.00" stroke="#000" stroke-width="1.5" />
<ellipse cx="1008.4" cy="434.6" rx="7.1" ry="10.4" fill="#fff" stroke="#222" stroke-width="0.8"/>
<rect x="1002.6" y="442.4" width="11.6" height="3.4" fill="#fff" stroke="#333" stroke-width="0.7"/>
<rect x="999.6" y="446.4" width="18.2" height="3.6" rx="1" fill="#fff" stroke="#555" stroke-width="0.6"/>
<circle cx="1008.4" cy="436.8" r="0.8" fill="#000"/>
<text x="931.80" y="481.30" font-size="13.4" text-anchor="middle" fill="#111" font-weight="bold" >Bedroom 1</text>
<text x="931.80" y="496.90" font-size="13.3" text-anchor="middle" fill="#111" >20'9 (6.32) max</text>
<text x="931.80" y="512.50" font-size="13.3" text-anchor="middle" fill="#111" >x 14'6 (4.42)</text>
<text x="906.80" y="640.90" font-size="13.4" text-anchor="middle" fill="#111" font-weight="bold" >Eaves</text>
<text x="906.80" y="656.60" font-size="13.3" text-anchor="middle" fill="#111" >14'4 (4.37)</text>
<text x="906.80" y="672.30" font-size="13.3" text-anchor="middle" fill="#111" >x 4'3 (1.30)</text>
<text x="809.00" y="714.80" font-size="18.9" text-anchor="start" fill="#000" font-weight="bold" >SECOND FLOOR</text>
</svg>
</body></html>
